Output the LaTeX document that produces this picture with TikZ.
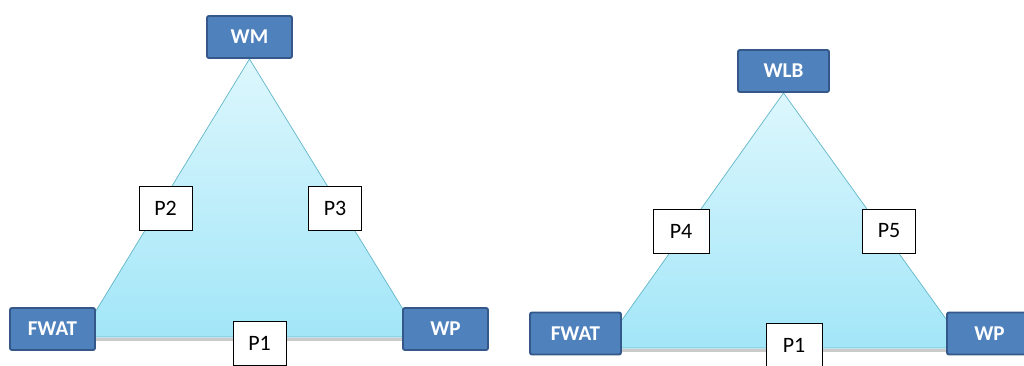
\documentclass[tikz,border=0pt]{standalone}
\usepackage{fontspec}
\setmainfont{Carlito}
\usetikzlibrary{backgrounds}
\definecolor{boxblue}{HTML}{4F81BD}
\definecolor{boxline}{HTML}{34588A}
\definecolor{trilight}{HTML}{DDF7FD}
\definecolor{tridark}{HTML}{A2E6F8}
\definecolor{triline}{HTML}{62B6C8}

\begin{document}
\begin{tikzpicture}[x=0.2mm,y=-0.2mm,semithick]
  \tikzstyle{box}=[fill=boxblue,draw=boxline,line width=1.1pt,text=white,
                   font=\fontsize{12}{14}\selectfont\bfseries,
                   minimum width=17mm,minimum height=8.4mm,inner sep=0pt,
                   rounded corners=0.4mm]
  \tikzstyle{tag}=[fill=white,draw=black,thin,
                   font=\fontsize{12.5}{15}\selectfont,
                   minimum width=10.6mm,minimum height=8.8mm,inner sep=0pt]
  \tikzstyle{side}=[draw=triline,thin,top color=trilight,bottom color=tridark]
  \tikzstyle{shadow}=[draw=black!45,line width=1.2pt,opacity=0.45]

  \useasboundingbox (0,0) rectangle (1024,365);

  % left triangle
  \coordinate (bl1) at (80,337);
  \coordinate (br1) at (420,337);
  \node[box]  (WM)    at (249.5,37)  {WM};
  \node[box]  (FWAT1) at (52.5,329)  {FWAT};
  \node[box]  (WP1)   at (445.5,329) {WP};
  \node[tag]  (P2)    at (165.5,208) {P2};
  \node[tag]  (P3)    at (335,208)   {P3};
  \node[tag]  (P1a)   at (259.5,343) {P1};

  % right triangle
  \coordinate (bl2) at (602,348);
  \coordinate (br2) at (967,348);
  \node[box,minimum width=18.2mm] (WLB)   at (783.5,71)  {WLB};
  \node[box,minimum width=18.2mm] (FWAT2) at (575.5,333.5) {FWAT};
  \node[box]  (WP2)   at (989.5,333.5) {WP};
  \node[tag,minimum width=11.2mm] (P4) at (681,231.5) {P4};
  \node[tag]  (P5)    at (889,231)   {P5};
  \node[tag,minimum width=11.2mm] (P1b) at (794,345) {P1};

  \begin{scope}[on background layer]
    \draw[shadow] ([yshift=-0.5mm]bl1) -- ([yshift=-0.5mm]br1);
    \path[side] (WM.south) -- (bl1) -- (br1) -- cycle;
    \draw[shadow] ([yshift=-0.5mm]bl2) -- ([yshift=-0.5mm]br2);
    \path[side] (WLB.south) -- (bl2) -- (br2) -- cycle;
  \end{scope}
\end{tikzpicture}
\end{document}
